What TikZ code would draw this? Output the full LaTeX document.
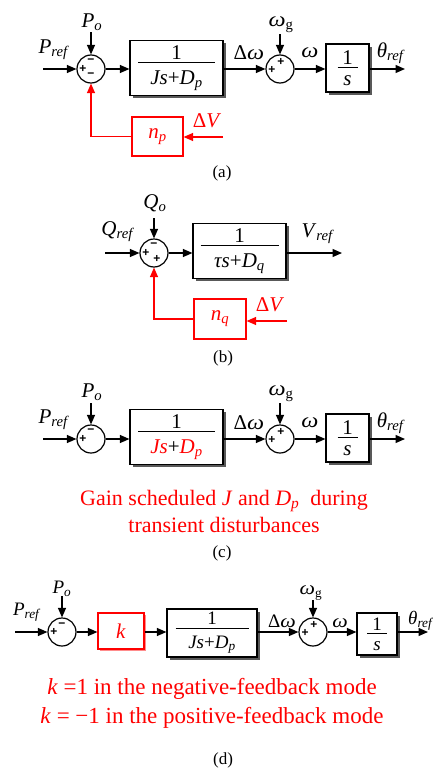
\documentclass[tikz,border=0pt]{standalone}
\usepackage{fontspec}
\setmainfont{Liberation Serif}
\newfontfamily\sgnfont{Liberation Sans}
\usetikzlibrary{arrows.meta,shadows}
\newcommand\vs[2]{\textit{#1}\textsubscript{\textit{#2}}}
\newcommand\om{\scalebox{1.15}[1]{\textit{ω}}}
\newcommand\frc[3]{\vbox{\offinterlineskip\halign{\hfil##\hfil\cr #2\cr\noalign{\kern3pt}\rule{#1}{0.9pt}\cr\noalign{\kern7pt}#3\cr}}}
\begin{document}
\begin{tikzpicture}[x=1pt,y=-1pt,line width=1.2pt,
  >={Triangle[length=9.5pt,width=8pt]},
  lbl/.style={font=\fontsize{21}{25}\selectfont,inner sep=0pt},
  lbls/.style={font=\fontsize{19}{23}\selectfont,inner sep=0pt},
  captxt/.style={font=\fontsize{17}{20}\selectfont,inner sep=0pt},
  sumc/.style={circle,draw,minimum size=28pt,inner sep=0pt},
  blk/.style={draw,fill=white,inner sep=0pt,font=\fontsize{21}{25}\selectfont,
    drop shadow={shadow xshift=2.5pt,shadow yshift=-2.5pt,fill=black!65,opacity=1}},
  blks/.style={blk,font=\fontsize{19}{23}\selectfont},
  rblk/.style={draw=red,text=red,inner sep=0pt,font=\fontsize{21}{25}\selectfont},
  sg/.style={font=\sgnfont\bfseries\fontsize{12}{12}\selectfont,inner sep=0pt},
  fb/.style={->,red}]
\useasboundingbox (0,0) rectangle (433,771);

% ---------------- (a)
\node[sumc] (s1a) at (91,69) {};
\node[sg] (s1a1) at ([xshift=-8pt]s1a.center) {+};
\node[sg] (s1a2) at ([yshift=7.5pt]s1a.center) {−};
\node[sg] (s1a3) at ([yshift=-6pt]s1a.center) {−};
\node[blk,minimum width=93pt,minimum height=55pt] (b1a) at (176.5,68) {\frc{77pt}{1}{\textit{Js}+\vs{D}{p}}};
\node[sumc] (s2a) at (280,69) {};
\node[sg] (s2a1) at ([xshift=-8pt,yshift=-1pt]s2a.center) {+};
\node[sg] (s2a2) at ([xshift=1pt,yshift=7.5pt]s2a.center) {+};
\node[blk,minimum width=43pt,minimum height=48pt] (b2a) at (347.5,68) {\frc{20pt}{1}{\textit{s}}};
\node[rblk,minimum width=51pt,minimum height=39pt] (npa) at (157.5,136.5) {\vs{n}{p}};
\coordinate (ina) at (43,69);
\coordinate (poa) at (91,32);
\coordinate (wga) at (280,34);
\coordinate (outa) at (405,69);
\coordinate (dva) at (223,137);
\node[lbl] (lpref) at (54,50) {\vs{P}{ref}};
\node[lbl] (lpo) at (92,22) {\vs{P}{o}};
\node[lbl] (ldwa) at (249,53) {Δ\om};
\node[lbl] (lwga) at (281,25) {\om\textsubscript{g}};
\node[lbl] (lwa) at (310,53) {\om};
\node[lbl] (ltha) at (391,53) {\vs{θ}{ref}};
\node[lbl,text=red] (ldva) at (207,121) {Δ\textit{V}};
\node[captxt] (capa) at (222,173) {(a)};
\draw[->] (ina) -- (s1a);
\draw[->] (poa) -- (s1a);
\draw[->] (s1a) -- (s1a -| b1a.west);
\draw[->] (b1a.east |- s2a) -- (s2a);
\draw[->] (wga) -- (s2a);
\draw[->] (s2a) -- (s2a -| b2a.west);
\draw[->] (b2a.east |- s2a) -- (outa);
\draw[fb] (dva) -- (dva -| npa.east);
\draw[fb] (npa.west) -| (s1a.south);

% ---------------- (b)
\node[sumc] (s1b) at (154,253) {};
\node[sg] (s1b1) at ([xshift=-8pt]s1b.center) {+};
\node[sg] (s1b2) at ([yshift=7.5pt]s1b.center) {−};
\node[sg] (s1b3) at ([xshift=3pt,yshift=-6pt]s1b.center) {+};
\node[blk,minimum width=93pt,minimum height=55pt] (b1b) at (239.5,251) {\frc{78pt}{1}{\textit{τs}+\vs{D}{q}}};
\node[rblk,minimum width=52pt,minimum height=40pt] (nqb) at (220,319) {\vs{n}{q}};
\coordinate (inb) at (105,253);
\coordinate (qob) at (154,218);
\coordinate (outb) at (342,253);
\coordinate (dvb) at (287,321);
\node[lbl] (lqref) at (118,232) {\vs{Q}{ref}};
\node[lbl] (lqo) at (155,203) {\vs{Q}{o}};
\node[lbl] (lvref) at (318,234) {\vs{V}{ref}};
\node[lbl,text=red] (ldvb) at (270,305) {Δ\textit{V}};
\node[captxt] (capb) at (223,358) {(b)};
\draw[->] (inb) -- (s1b);
\draw[->] (qob) -- (s1b);
\draw[->] (s1b) -- (s1b -| b1b.west);
\draw[->] (b1b.east |- s1b) -- (outb);
\draw[fb] (dvb) -- (dvb -| nqb.east);
\draw[fb] (nqb.west) -| (s1b.south);

% ---------------- (c)
\node[sumc] (s1c) at (91,439) {};
\node[sg] (s1c1) at ([xshift=-8pt]s1c.center) {+};
\node[sg] (s1c2) at ([yshift=7.5pt]s1c.center) {−};
\node[blk,minimum width=93pt,minimum height=55pt] (b1c) at (176.5,437) {\frc{77pt}{1}{\textcolor{red}{\textit{Js}}+\textcolor{red}{\vs{D}{p}}}};
\node[sumc] (s2c) at (280,439) {};
\node[sg] (s2c1) at ([xshift=-8pt,yshift=-1pt]s2c.center) {+};
\node[sg] (s2c2) at ([xshift=1pt,yshift=7.5pt]s2c.center) {+};
\node[blk,minimum width=43pt,minimum height=48pt] (b2c) at (347.5,438) {\frc{20pt}{1}{\textit{s}}};
\coordinate (inc) at (43,439);
\coordinate (poc) at (91,403);
\coordinate (wgc) at (280,403);
\coordinate (outc) at (405,439);
\node[lbl] (lprefc) at (54,420) {\vs{P}{ref}};
\node[lbl] (lpoc) at (92,392) {\vs{P}{o}};
\node[lbl] (ldwc) at (249,423) {Δ\om};
\node[lbl] (lwgc) at (281,394) {\om\textsubscript{g}};
\node[lbl] (lwc) at (310,423) {\om};
\node[lbl] (lthc) at (391,423) {\vs{θ}{ref}};
\node[text=red,align=center,inner sep=0pt,font=\fontsize{22}{27}\selectfont] (txtc) at (224,511)
  {Gain scheduled \textit{J} and \vs{D}{p}\ \ during\\transient disturbances};
\draw[->] (inc) -- (s1c);
\draw[->] (poc) -- (s1c);
\draw[->] (s1c) -- (s1c -| b1c.west);
\draw[->] (b1c.east |- s2c) -- (s2c);
\draw[->] (wgc) -- (s2c);
\draw[->] (s2c) -- (s2c -| b2c.west);
\draw[->] (b2c.east |- s2c) -- (outc);
\node[captxt] (capc) at (222,553) {(c)};

% ---------------- (d)
\node[sumc] (s1d) at (62,632) {};
\node[sg] (s1d1) at ([xshift=-8pt]s1d.center) {+};
\node[sg] (s1d2) at ([yshift=7pt]s1d.center) {−};
\node[rblk,minimum width=46pt,minimum height=36pt,
  drop shadow={shadow xshift=1.5pt,shadow yshift=-1.5pt,fill=red!45,opacity=1},fill=white] (kd) at (121,631) {\textit{k}};
\node[blks,minimum width=90pt,minimum height=48pt] (b1d) at (212,633) {\frc{73pt}{1}{\textit{Js}+\vs{D}{p}}};
\node[sumc] (s2d) at (313,632) {};
\node[sg] (s2d1) at ([xshift=-8pt,yshift=-1pt]s2d.center) {+};
\node[sg] (s2d2) at ([xshift=1pt,yshift=7pt]s2d.center) {+};
\node[blks,minimum width=40pt,minimum height=42pt] (b2d) at (377,634) {\frc{20pt}{1}{\textit{s}}};
\coordinate (ind) at (15,632);
\coordinate (pod) at (62,596);
\coordinate (wgd) at (313,600);
\coordinate (outd) at (428,632);
\node[lbls] (lprefd) at (27,612) {\vs{P}{ref}};
\node[lbls] (lpod) at (62,589) {\vs{P}{o}};
\node[lbls] (ldwd) at (282,621) {Δ\om};
\node[lbls] (lwgd) at (311,593) {\om\textsubscript{g}};
\node[lbls] (lwd) at (340,623) {\om};
\node[lbls] (lthd) at (421,621) {\vs{θ}{ref}};
\node[text=red,align=center,inner sep=0pt,font=\fontsize{23}{29}\selectfont] (txtd) at (212,703)
  {\textit{k} =1 in the negative-feedback mode\\\textit{k} = −1 in the positive-feedback mode};
\node[captxt] (capd) at (223,760) {(d)};
\draw[->] (ind) -- (s1d);
\draw[->] (pod) -- (s1d);
\draw[->] (s1d) -- (s1d -| kd.west);
\draw[->] (kd.east |- s1d) -- (s1d -| b1d.west);
\draw[->] (b1d.east |- s2d) -- (s2d);
\draw[->] (wgd) -- (s2d);
\draw[->] (s2d) -- (s2d -| b2d.west);
\draw[->] (b2d.east |- s2d) -- (outd);
\end{tikzpicture}
\end{document}
